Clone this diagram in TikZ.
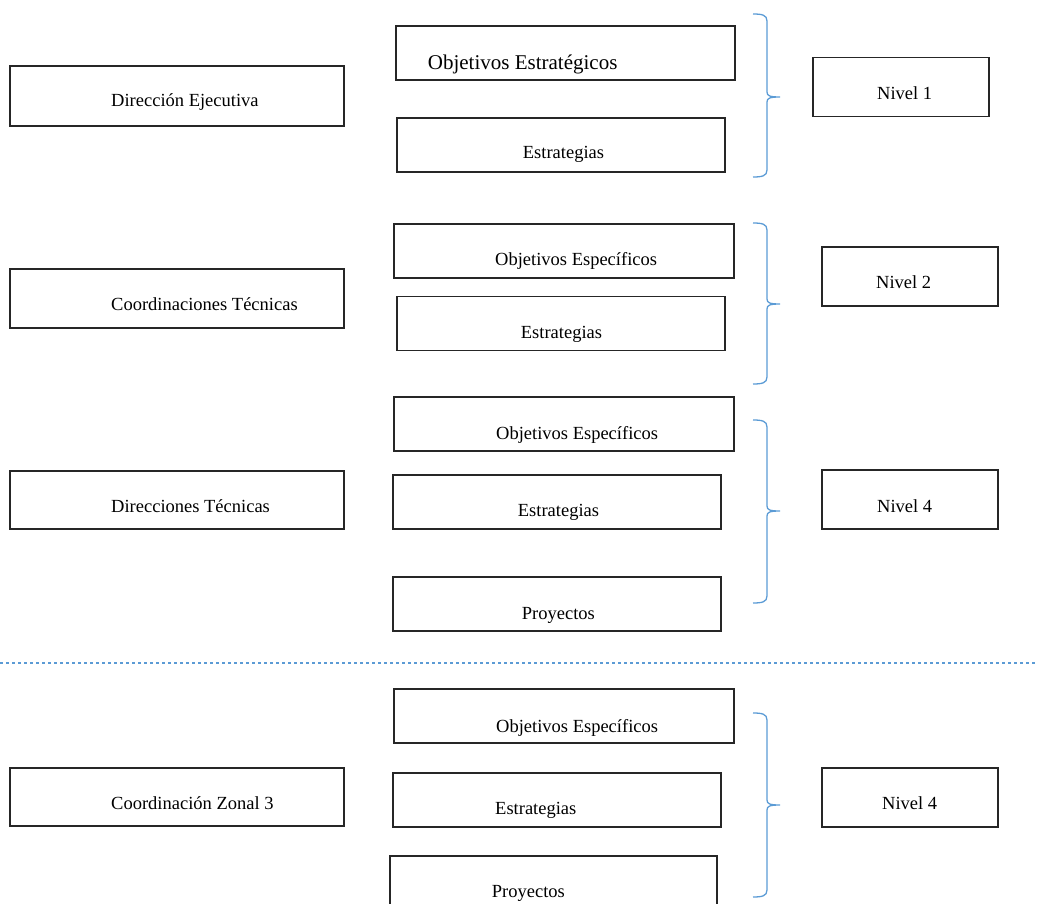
\documentclass[tikz,border=0pt]{standalone}
\usepackage{fontspec}
\setmainfont{Liberation Serif}
\usepackage{tikz}
\usetikzlibrary{positioning}
\definecolor{llave}{RGB}{91,155,213}
\tikzset{
  caja/.style={draw=black!85, line width=1.2pt, inner sep=0pt},
  txt/.style={font=\fontsize{18.5}{21}\selectfont, anchor=base west, inner sep=0pt, yshift=-2pt},
  txtgrande/.style={font=\fontsize{21}{24}\selectfont, anchor=base west, inner sep=0pt, yshift=-2pt},
  llavebox/.style={draw=llave, line width=1.3pt},
  separador/.style={draw=llave, line width=2pt, dash pattern=on 2.5pt off 3.5pt}
}

\begin{document}
\begin{tikzpicture}[x=1pt,y=-1pt]
\clip (0,0) rectangle (1037,904);
% Unidades (izquierda)
\foreach \n/\cy/\h/\by/\l in {dirEj/96/60/105/Dirección Ejecutiva,
  coordTec/298.5/59/309/Coordinaciones Técnicas,
  dirTec/500/58/510/Direcciones Técnicas,
  coordZon/797/58/807/Coordinación Zonal 3} {
  \node[caja, minimum width=334, minimum height=\h] (\n) at (177,\cy) {};
  \node[txt] (t-\n) at (111,\by) {\l};
}
% Objetivos y estrategias (centro)
\node[caja, minimum width=339, minimum height=54] (objEst) at (565.5,53) {};
\node[txtgrande] (t-objEst) at (427.7,68) {Objetivos Estratégicos};
\foreach \n/\cx/\cy/\w/\tx/\ty/\l in {estr1/561/145/328/522.7/157/Estrategias,
  objEsp2/564/251/340/495/264/Objetivos Específicos,
  estr2/561/323.5/328/520.7/336/Estrategias,
  objEsp3/564/424/340/496/437/Objetivos Específicos,
  estr3/557/502/328/517.7/514/Estrategias,
  proy3/557/604/328/521.7/617/Proyectos,
  objEsp4/564/716/340/496/730/Objetivos Específicos,
  estr4/557/800/328/495/812/Estrategias,
  proy4/553.5/883/327/491.7/895/Proyectos} {
  \node[caja, minimum width=\w, minimum height=54] (\n) at (\cx,\cy) {};
  \node[txt] (t-\n) at (\tx,\ty) {\l};
}
% Niveles (derecha)
\foreach \n/\cx/\cy/\tx/\ty/\l in {niv1/901/87/877/98/Nivel 1,
  niv2/910/276.5/876/287/Nivel 2,
  niv3/910/499.5/877/510/Nivel 4,
  niv4/910/797.5/882/807/Nivel 4} {
  \node[caja, minimum width=176, minimum height=59] (\n) at (\cx,\cy) {};
  \node[txt] (t-\n) at (\tx,\ty) {\l};
}
% Llaves
\foreach \t/\m/\b in {14/97/177, 223/304/384, 420/511/603, 713/805/897} {
  \draw[llavebox] (753,\t) .. controls (762,\t) and (767,\t+1) .. (767,\t+7)
    -- (767,\m-5) .. controls (767,\m-1) and (770,\m) .. (780,\m)
    .. controls (770,\m) and (767,\m+1) .. (767,\m+5)
    -- (767,\b-7) .. controls (767,\b-1) and (762,\b) .. (753,\b);
}
% Separador
\coordinate (sepIzq) at (0,663);
\coordinate (sepDer) at (1037,663);
\draw[separador] (sepIzq) -- (sepDer);
\end{tikzpicture}
\end{document}
